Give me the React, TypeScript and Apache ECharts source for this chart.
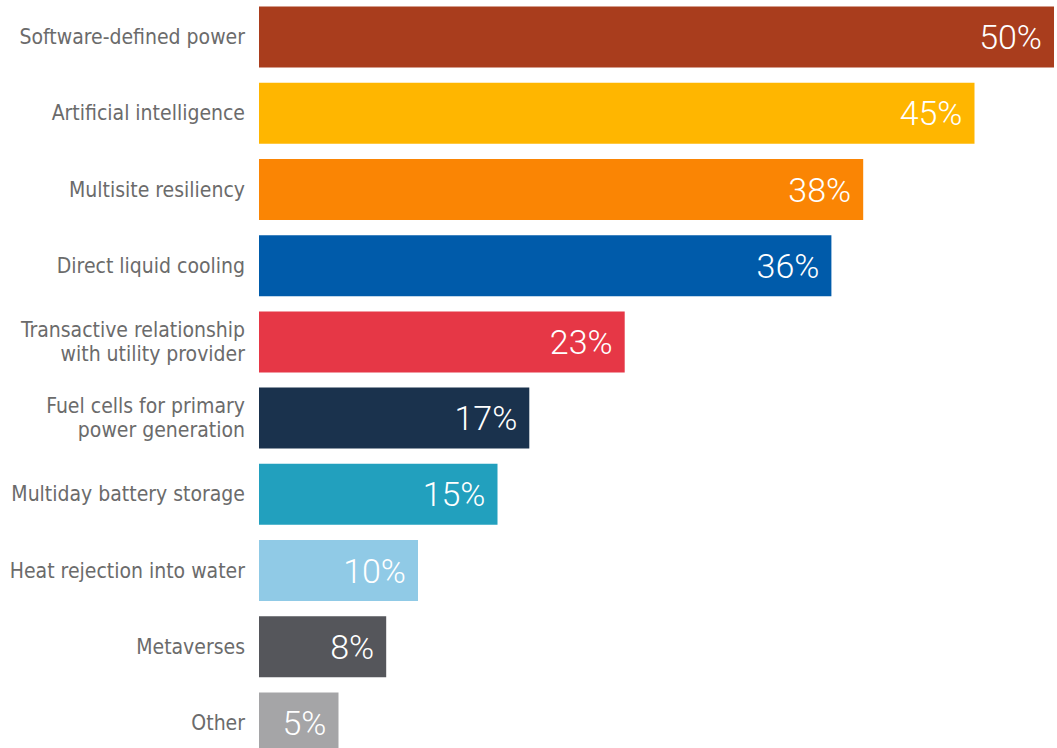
import React, { useEffect, useRef } from "react";
import * as echarts from "echarts";

const categories = [
  "Software-defined power",
  "Artificial intelligence",
  "Multisite resiliency",
  "Direct liquid cooling",
  "Transactive relationship\nwith utility provider",
  "Fuel cells for primary\npower generation",
  "Multiday battery storage",
  "Heat rejection into water",
  "Metaverses",
  "Other",
];
const values = [50, 45, 38, 36, 23, 17, 15, 10, 8, 5];
const colors = [
  "#A93D1D",
  "#FFB600",
  "#FA8504",
  "#005BAA",
  "#E63746",
  "#1A324D",
  "#22A0BE",
  "#90CAE6",
  "#55565B",
  "#A5A5A7",
];

export default function App() {
  const ref = useRef<HTMLDivElement>(null);
  useEffect(() => {
    if (!ref.current) return;
    const chart = echarts.init(ref.current, undefined, { renderer: "svg" });
    chart.setOption({
      animation: false,
      grid: { left: 259, width: 795, top: 0, height: 762, containLabel: false },
      xAxis: {
        type: "value",
        min: 0,
        max: 50,
        show: false,
      },
      yAxis: {
        type: "category",
        inverse: true,
        data: categories,
        axisLine: { show: false },
        axisTick: { show: false },
        axisLabel: {
          margin: 14,
          color: "#6b6b6b",
          fontSize: 21,
          lineHeight: 24,
          fontFamily: "'Liberation Sans Narrow', 'DejaVu Sans Condensed', 'Roboto Condensed', sans-serif",
          align: "right",
        },
      },
      series: [
        {
          type: "bar",
          barCategoryGap: "20%",
          data: values.map((v, i) => ({ value: v, itemStyle: { color: colors[i] } })),
          label: {
            show: true,
            position: "insideRight",
            distance: 12,
            color: "#ffffff",
            fontSize: 34,
            fontWeight: 300,
            fontFamily: "Roboto, sans-serif",
            formatter: (p: any) => `${p.value}%`,
          },
        },
      ],
    });
    return () => chart.dispose();
  }, []);
  return (
    <div
      style={{ position: "absolute", left: 0, top: 0, width: 1057, height: 748, overflow: "hidden", background: "#fff" }}
    >
      <div ref={ref} style={{ position: "absolute", left: 0, top: -1, width: 1057, height: 780 }} />
    </div>
  );
}
